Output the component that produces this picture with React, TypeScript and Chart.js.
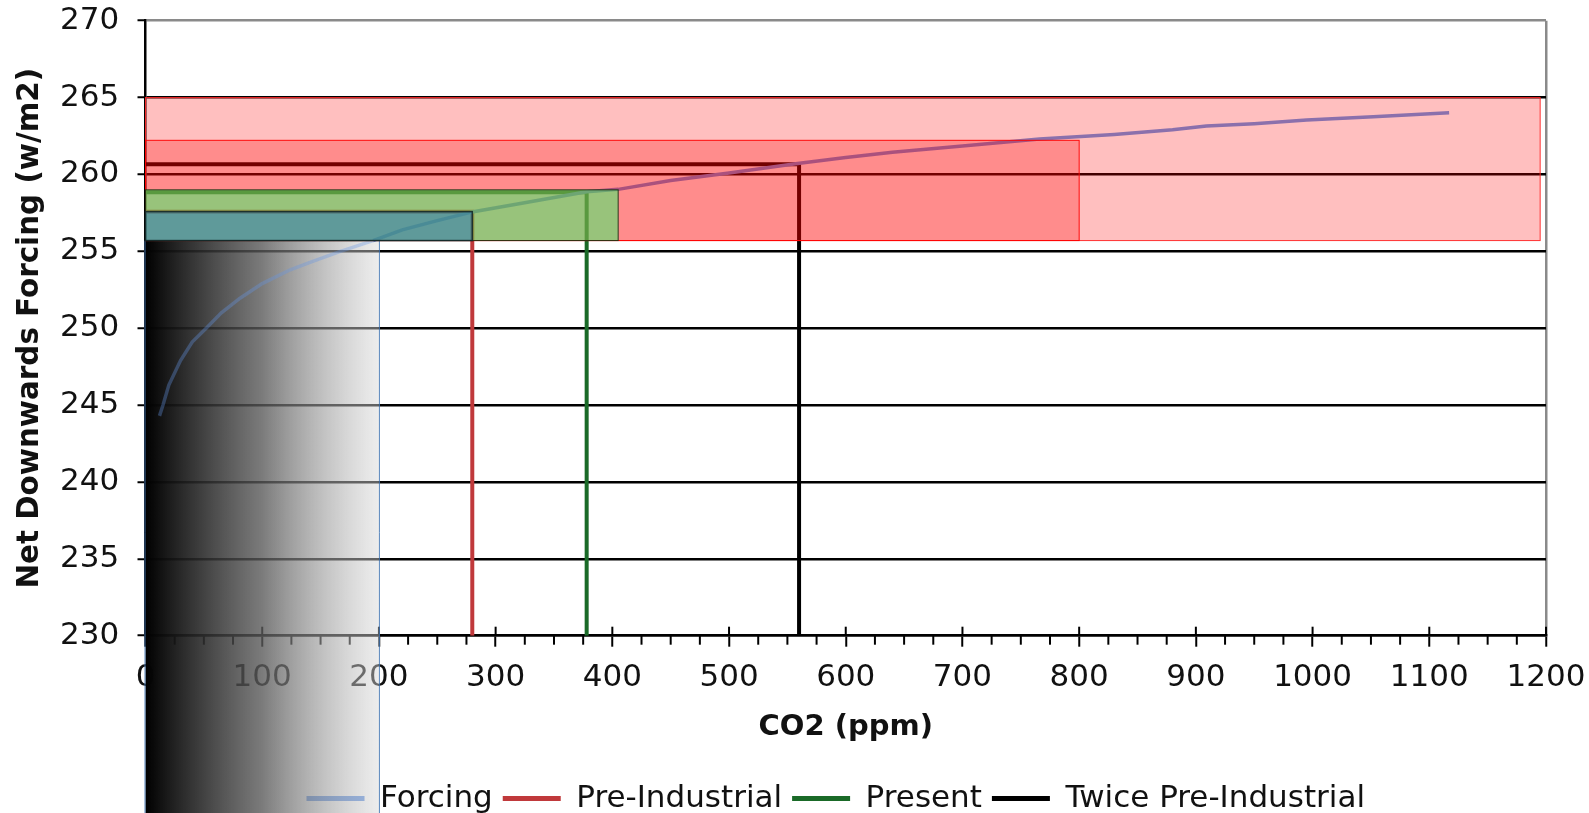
import React, { useEffect, useRef } from "react";
import { Chart, registerables } from "chart.js";

Chart.register(...registerables);

// ---- data ----
const co2Ppm = [12, 15, 20, 30, 40, 52, 65, 81, 100, 124, 145, 167, 195, 220, 250, 281, 320, 378, 405, 450, 500, 557, 600, 640, 700, 766, 830, 880, 909, 950, 995, 1052, 1117];
const forcingWm2 = [244.3, 245.0, 246.3, 247.9, 249.1, 250.0, 251.0, 251.95, 252.9, 253.8, 254.4, 255.0, 255.7, 256.4, 257.0, 257.58, 258.1, 258.88, 259.03, 259.6, 260.1, 260.7, 261.1, 261.45, 261.85, 262.3, 262.6, 262.9, 263.15, 263.3, 263.54, 263.76, 264.02];

const seriesLabels = ["Forcing", "Pre-Industrial", "Present", "Twice Pre-Industrial"];
const markerCo2 = [280, 378, 560];
const markerForcing = [257.58, 258.85, 260.66];

// shaded bands (x extent in ppm, top in W/m2), common bottom
const bandCo2Max = [1195, 800, 405, 280];
const bandTop = [265, 262.22, 259.0, 257.58];
const bandBottom = 255.7;
const shadeCo2Max = 200;

const xMin = 0, xMax = 1200, xStep = 100, xMinorStep = 25;
const yMin = 230, yMax = 270, yStep = 5;

const FONT = "DejaVu Sans";
const forcingColor = "rgb(100,150,230)";
const forcingShaded = "rgba(100,150,230,0.35)";
const markerColors = ["#c0393b", "#1a6a28", "#000000"];
const bandFills = ["rgba(255,0,0,0.25)", "rgba(255,0,0,0.27)", "rgba(50,250,105,0.5)", "rgba(38,114,186,0.5)"];
const bandStrokes = ["rgba(255,40,40,0.95)", "rgba(255,0,0,0.95)", "rgba(25,45,15,0.9)", "rgba(20,40,40,0.9)"];
const bandStrokeWidths = [1, 1, 1, 1.5];

const LEGEND_PAD = 10;

const overlayPlugin = {
  id: "overlays",
  afterLayout(chart: any) {
    const lg = chart.legend;
    if (!lg || !lg.lineWidths) return;
    const cur = (lg.left + LEGEND_PAD + lg.right - lg.lineWidths[0]) / 2;
    const shift = 306.5 - cur;
    lg.left += shift;
    lg.right += shift;
  },
  beforeDatasetsDraw(chart: any) {
    const { ctx, scales } = chart;
    const x = scales.x, y = scales.y;
    const axisY = y.getPixelForValue(yMin);
    ctx.save();
    ctx.strokeStyle = "#000";
    ctx.lineWidth = 2;
    for (let v = xMin; v <= xMax; v += xMinorStep) {
      const px = x.getPixelForValue(v);
      ctx.beginPath();
      if (v % xStep === 0) {
        ctx.moveTo(px, axisY - 9);
        ctx.lineTo(px, axisY);
      } else {
        ctx.moveTo(px, axisY);
        ctx.lineTo(px, axisY + 9);
      }
      ctx.stroke();
    }
    // gradient shade box
    const x0 = x.getPixelForValue(xMin);
    const x1 = x.getPixelForValue(shadeCo2Max);
    const yTop = y.getPixelForValue(bandBottom);
    const g = ctx.createLinearGradient(x0, 0, x1, 0);
    g.addColorStop(0, "rgba(0,0,0,1)");
    g.addColorStop(0.5, "rgba(90,90,90,0.8)");
    g.addColorStop(1, "rgba(215,215,215,0.45)");
    ctx.fillStyle = g;
    ctx.fillRect(x0, yTop, x1 - x0, chart.height - yTop);
    ctx.strokeStyle = "rgba(70,120,180,0.9)";
    ctx.lineWidth = 1;
    ctx.beginPath();
    ctx.moveTo(x0 - 0.5, yTop);
    ctx.lineTo(x0 - 0.5, chart.height);
    ctx.moveTo(x1 + 0.5, yTop);
    ctx.lineTo(x1 + 0.5, chart.height);
    ctx.stroke();
    ctx.restore();
  },
  afterDatasetsDraw(chart: any) {
    const { ctx, scales } = chart;
    const x = scales.x, y = scales.y;
    ctx.save();
    const left = x.getPixelForValue(xMin);
    const bottom = y.getPixelForValue(bandBottom);
    for (let i = 0; i < bandCo2Max.length; i++) {
      const right = x.getPixelForValue(bandCo2Max[i]);
      const top = y.getPixelForValue(bandTop[i]);
      ctx.fillStyle = bandFills[i];
      ctx.fillRect(left, top, right - left, bottom - top);
      ctx.strokeStyle = bandStrokes[i];
      ctx.lineWidth = bandStrokeWidths[i];
      ctx.strokeRect(left, top, right - left, bottom - top);
    }
    ctx.restore();
  },
};

export default function App() {
  const canvasRef = useRef<HTMLCanvasElement | null>(null);

  useEffect(() => {
    if (!canvasRef.current) return;
    Chart.defaults.font.family = FONT;
    Chart.defaults.color = "#111";

    const forcingData = co2Ppm.map((c, i) => ({ x: c, y: forcingWm2[i] }));
    const markerSets = markerCo2.map((c, i) => ({
      label: seriesLabels[i + 1],
      data: [
        { x: xMin, y: markerForcing[i] },
        { x: c, y: markerForcing[i] },
        { x: c, y: yMin },
      ],
      borderColor: markerColors[i],
      backgroundColor: markerColors[i],
      borderWidth: 4,
      pointRadius: 0,
      tension: 0,
    }));
    const legendColors = [forcingColor, ...markerColors];

    const chart = new Chart(canvasRef.current, {
      type: "line",
      data: {
        datasets: [
          {
            label: seriesLabels[0],
            data: forcingData,
            borderColor: forcingColor,
            backgroundColor: forcingColor,
            borderWidth: 3.5,
            pointRadius: 0,
            tension: 0,
            segment: {
              borderColor: (c: any) => (c.p1.parsed.x <= shadeCo2Max ? forcingShaded : forcingColor),
            },
          } as any,
          ...markerSets,
        ],
      },
      options: {
        responsive: true,
        maintainAspectRatio: false,
        animation: false,
        devicePixelRatio: 1,
        layout: { padding: { top: 20.7, right: 43, bottom: 0, left: 0 } },
        plugins: {
          tooltip: { enabled: false },
          legend: {
            position: "bottom",
            labels: {
              boxWidth: 58,
              boxHeight: 5,
              padding: LEGEND_PAD,
              color: "#111",
              font: { family: FONT, size: 31 },
              generateLabels: (ch: any) =>
                ch.data.datasets.map((ds: any, i: number) => ({
                  text: ds.label,
                  fillStyle: legendColors[i],
                  strokeStyle: legendColors[i],
                  lineWidth: 0,
                  hidden: false,
                  datasetIndex: i,
                  fontColor: "#111",
                })),
            },
          },
        },
        scales: {
          x: {
            type: "linear",
            min: xMin,
            max: xMax,
            afterFit: (s: any) => {
              s.height = 137.3;
              s.paddingLeft = 0;
              s.paddingRight = 0;
            },
            ticks: {
              stepSize: xStep,
              autoSkip: false,
              maxRotation: 0,
              color: "#111",
              padding: 12.7,
              font: { family: FONT, size: 31 },
              callback: (v: any) => String(v),
            },
            grid: {
              color: (c: any) => (c.tick && c.tick.value === xMax ? "#8a8a8a" : "rgba(0,0,0,0)"),
              lineWidth: 2.5,
              tickColor: "#000",
              tickWidth: 2,
              tickLength: 11,
              drawOnChartArea: true,
              drawTicks: true,
            },
            border: { color: "#000", width: 2.5 },
            title: {
              display: true,
              text: "CO2 (ppm)",
              color: "#111",
              font: { family: FONT, size: 29, weight: "bold" },
              padding: { top: 0, bottom: 28 },
            },
          },
          y: {
            type: "linear",
            min: yMin,
            max: yMax,
            afterFit: (s: any) => {
              s.width = 145.5;
              s.paddingTop = 0;
              s.paddingBottom = 0;
            },
            ticks: {
              stepSize: yStep,
              color: "#111",
              padding: 18.4,
              font: { family: FONT, size: 31 },
              callback: (v: any) => String(v),
            },
            grid: {
              color: (c: any) => (c.tick && c.tick.value === yMax ? "#8a8a8a" : "#000"),
              lineWidth: 2.5,
              tickColor: "#000",
              tickWidth: 2,
              tickLength: 8,
            },
            border: { color: "#000", width: 2.5 },
            title: {
              display: true,
              text: "Net Downwards Forcing (w/m2)",
              color: "#111",
              font: { family: FONT, size: 29.4, weight: "bold" },
              padding: { top: 12.8, bottom: 0 },
            },
          },
        },
      } as any,
      plugins: [overlayPlugin as any],
    });

    return () => {
      chart.destroy();
    };
  }, []);

  return (
    <div style={{ position: "fixed", left: 0, top: 0, width: 1589, height: 824, background: "#fff" }}>
      <canvas ref={canvasRef} />
    </div>
  );
}
